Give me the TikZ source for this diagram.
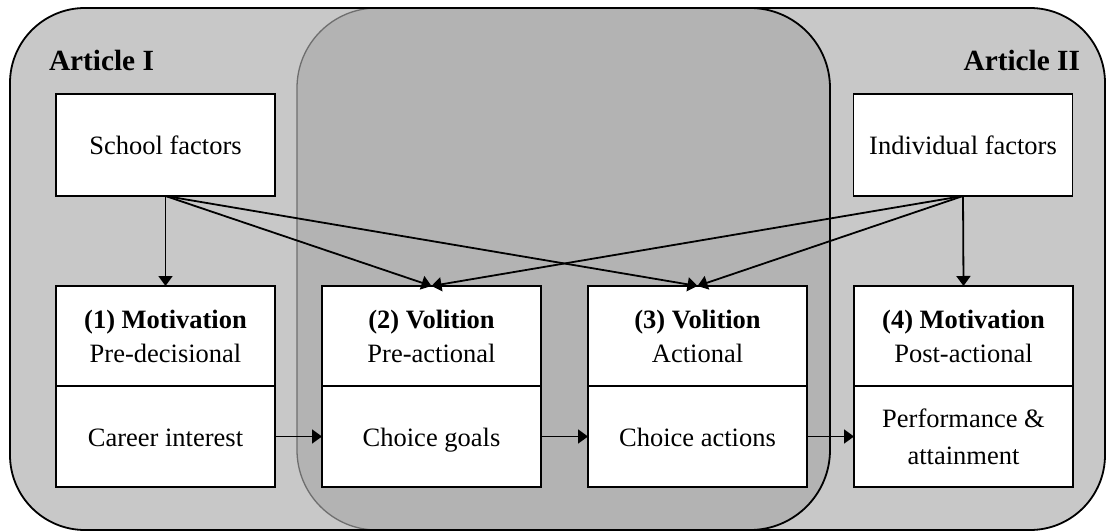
\documentclass[tikz,border=0pt]{standalone}
\usepackage{fontspec}
\setmainfont{Liberation Serif}
\usetikzlibrary{arrows.meta}
\definecolor{outergray}{RGB}{200,200,200}
\definecolor{innergray}{RGB}{179,179,179}
\definecolor{edgegray}{RGB}{110,110,110}
\begin{document}
\begin{tikzpicture}[x=1pt,y=-1pt,
  every node/.style={inner sep=0pt,outer sep=0pt},
  boxtext/.style={font=\fontsize{26.5}{34}\selectfont},
  oneline/.style={text height=24.5pt,text depth=5pt},
  factorbox/.style={draw=black,line width=1.8pt,fill=white,boxtext,oneline,
    minimum width=219pt,minimum height=102pt,align=center},
  stagebox/.style={draw=black,line width=1.8pt,fill=white,boxtext,
    minimum width=219pt,minimum height=100pt,align=center},
  outcomebox/.style={stagebox,minimum height=101pt},
  title/.style={font=\fontsize{29.3}{34}\selectfont\bfseries},
  arr/.style={line width=1.8pt,-{Triangle[length=10pt,width=14pt]}}
]
\useasboundingbox (0,0) rectangle (1113,532);

% outer panel and the shaded volition band
\fill[outergray,rounded corners=75pt] (10,8) rectangle (1105,530);
\fill[innergray,rounded corners=80pt] (297,8) rectangle (830,530);
\begin{scope}
  \clip (0,0) rectangle (564,532);
  \draw[edgegray,line width=1.3pt,rounded corners=80pt] (297,8) rectangle (830,530);
\end{scope}
\begin{scope}
  \clip (564,0) rectangle (1113,532);
  \draw[black,line width=1.8pt,rounded corners=80pt] (297,8) rectangle (830,530);
\end{scope}
\draw[black,line width=1.8pt,rounded corners=75pt] (10,8) rectangle (1105,530);

% article titles
\node[title,anchor=base west] (a1) at (49,71) {Article I};
\node[title,anchor=base east] (a2) at (1080,71) {Article II};

% factor boxes
\node[factorbox] (sf) at (165.5,145) {School factors};
\node[factorbox] (if) at (963,145) {Individual factors};

% stage boxes: phase on top, outcome below
\node[stagebox] (m1) at (165.5,336) {\textbf{(1) Motivation}\\Pre-decisional};
\node[outcomebox,oneline] (c1) at (165.5,436.5) {Career interest};
\node[stagebox] (m2) at (431.5,336) {\textbf{(2) Volition}\\Pre-actional};
\node[outcomebox,oneline] (c2) at (431.5,436.5) {Choice goals};
\node[stagebox] (m3) at (697.5,336) {\textbf{(3) Volition}\\Actional};
\node[outcomebox,oneline] (c3) at (697.5,436.5) {Choice actions};
\node[stagebox] (m4) at (963.5,336) {\textbf{(4) Motivation}\\Post-actional};
\node[outcomebox] (c4) at (963.5,436.5) {Performance \&\\[3pt]attainment};

% influences of the factors
\draw[arr] (sf.south) -- (m1.north);
\draw[arr] (sf.south) -- (m2.north);
\draw[arr] (sf.south) -- (m3.north);
\draw[arr] (if.south) -- (m4.north);
\draw[arr] (if.south) -- (m2.north);
\draw[arr] (if.south) -- (m3.north);

% sequence of outcomes
\draw[arr] (c1.east) -- (c2.west);
\draw[arr] (c2.east) -- (c3.west);
\draw[arr] (c3.east) -- (c4.west);
\end{tikzpicture}
\end{document}
